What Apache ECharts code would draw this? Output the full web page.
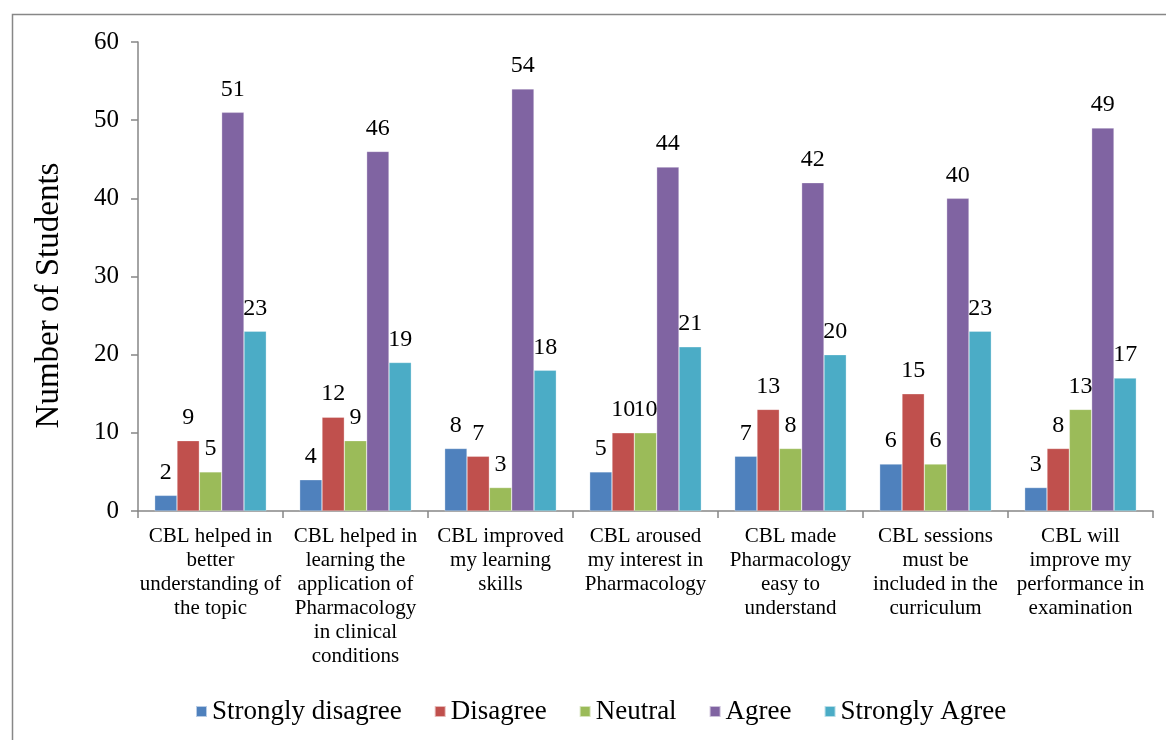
<!DOCTYPE html>
<html>
<head>
<meta charset="utf-8">
<script src="https://cdn.jsdelivr.net/npm/echarts@6/dist/echarts.min.js"></script>
<style>html,body{margin:0;padding:0;background:#fff}#c{width:1166px;height:740px}</style>
</head>
<body>
<div id="c"></div>
<script>
const categories = [
  "CBL helped in\nbetter\nunderstanding of\nthe topic",
  "CBL helped in\nlearning the\napplication of\nPharmacology\nin clinical\nconditions",
  "CBL improved\nmy learning\nskills",
  "CBL aroused\nmy interest in\nPharmacology",
  "CBL made\nPharmacology\neasy to\nunderstand",
  "CBL sessions\nmust be\nincluded in the\ncurriculum",
  "CBL will\nimprove my\nperformance in\nexamination"
];
const seriesNames = ["Strongly disagree", "Disagree", "Neutral", "Agree", "Strongly Agree"];
const stronglyDisagree = [2, 4, 8, 5, 7, 6, 3];
const disagree = [9, 12, 7, 10, 13, 15, 8];
const neutral = [5, 9, 3, 10, 8, 6, 13];
const agree = [51, 46, 54, 44, 42, 40, 49];
const stronglyAgree = [23, 19, 18, 21, 20, 23, 17];
const colors = ["#4F81BD", "#C0504D", "#9BBB59", "#8064A2", "#4BACC6"];
const values = [stronglyDisagree, disagree, neutral, agree, stronglyAgree];

const font = "Liberation Serif";
const chart = echarts.init(document.getElementById('c'));
chart.setOption({
  animation: false,
  color: colors,
  textStyle: { fontFamily: font, color: '#000' },
  graphic: [{
    type: 'rect', left: 10, top: 12,
    shape: { width: 1170, height: 740 },
    style: { fill: 'none', stroke: '#878787', lineWidth: 1.5 }, silent: true
  }],
  grid: { left: 138, right: 13, top: 42, bottom: 229 },
  legend: {
    bottom: 10, left: 190,
    itemWidth: 11, itemHeight: 11, itemGap: 32,
    icon: 'rect',
    textStyle: { fontFamily: font, fontSize: 27, color: '#000' },
    data: seriesNames
  },
  xAxis: {
    type: 'category', data: categories,
    axisLine: { lineStyle: { color: '#868686', width: 1.5 } },
    axisTick: { show: true, alignWithLabel: false, length: 7, lineStyle: { color: '#868686', width: 1.5 } },
    axisLabel: { interval: 0, fontFamily: font, fontSize: 21, lineHeight: 24, color: '#000', margin: 13 }
  },
  yAxis: {
    type: 'value', min: 0, max: 60, interval: 10,
    name: 'Number of Students', nameLocation: 'middle', nameGap: 72,
    nameTextStyle: { fontFamily: font, fontSize: 33, color: '#000', padding: [0, 38, 0, 0] },
    axisLine: { show: true, lineStyle: { color: '#868686', width: 1.5 } },
    axisTick: { show: true, length: 7, lineStyle: { color: '#868686', width: 1.5 } },
    splitLine: { show: false },
    axisLabel: { fontFamily: font, fontSize: 25, color: '#000', margin: 19 }
  },
  series: seriesNames.map((n, i) => ({
    name: n, type: 'bar', data: values[i],
    barGap: '0%', barCategoryGap: '23%',
    itemStyle: { color: colors[i], borderColor: 'rgba(255,255,255,0.6)', borderWidth: 0.5 },
    label: { show: true, position: 'top', distance: 11, fontFamily: font, fontSize: 24, color: '#000' }
  }))
});
</script>
</body>
</html>
